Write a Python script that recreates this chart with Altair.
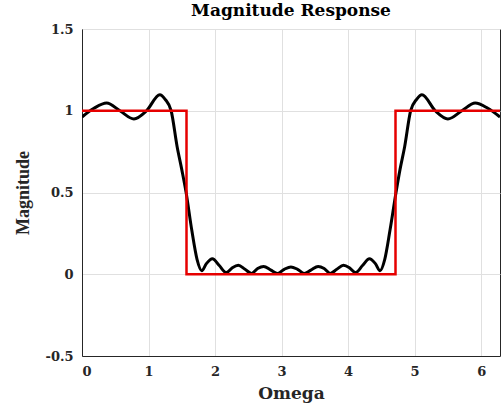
import altair as alt
import pandas as pd

resp_x = [0.00, 0.18, 0.37, 0.57, 0.78, 0.97, 1.17, 1.25, 1.34, 1.43, 1.50, 1.565,
          1.65, 1.73, 1.80, 1.87, 1.96, 2.06, 2.17, 2.26, 2.35, 2.45, 2.55, 2.64,
          2.73, 2.84, 2.94, 3.04, 3.14, 3.24, 3.34, 3.44, 3.55, 3.64, 3.73, 3.83,
          3.93, 4.02, 4.11, 4.22, 4.32, 4.41, 4.48, 4.55, 4.63, 4.72, 4.78, 4.85,
          4.94, 5.03, 5.11, 5.31, 5.50, 5.71, 5.91, 6.10, 6.283]
resp_y = [0.962, 1.015, 1.047, 1.000, 0.950, 1.000, 1.098, 1.070, 1.000, 0.780, 0.640, 0.500,
          0.270, 0.090, 0.022, 0.065, 0.095, 0.055, 0.010, 0.040, 0.055, 0.030, 0.005, 0.035,
          0.048, 0.025, 0.005, 0.030, 0.045, 0.030, 0.005, 0.025, 0.048, 0.035, 0.005, 0.030,
          0.055, 0.040, 0.010, 0.055, 0.095, 0.065, 0.022, 0.090, 0.270, 0.500, 0.640, 0.780,
          1.000, 1.070, 1.098, 1.000, 0.950, 1.000, 1.047, 1.015, 0.962]

# Ideal (red) bandstop response
ideal_x = [0.0, 1.5708, 1.5708, 4.7124, 4.7124, 6.2832]
ideal_y = [1.0, 1.0, 0.0, 0.0, 1.0, 1.0]

x_ticks = [0, 1, 2, 3, 4, 5, 6]
y_ticks = [-0.5, 0, 0.5, 1, 1.5]

resp = pd.DataFrame({"omega": resp_x, "mag": resp_y, "i": range(len(resp_x))})
ideal = pd.DataFrame({"omega": ideal_x, "mag": ideal_y, "i": range(len(ideal_x))})

WIDE = "DejaVu Serif"
TIMES = "Liberation Serif"

xenc = alt.X("omega:Q", scale=alt.Scale(domain=[0, 6.2832], nice=False, zero=False),
             axis=alt.Axis(values=x_ticks, title="Omega", labelExpr="'' + datum.value",
                           titleFont=WIDE, titleFontSize=17, titlePadding=7))
yenc = alt.Y("mag:Q", scale=alt.Scale(domain=[-0.5, 1.5], nice=False, zero=False),
             axis=alt.Axis(values=y_ticks, title="Magnitude", labelExpr="'' + datum.value",
                           titleFont=TIMES, titleFontSize=18, titlePadding=12))

black = alt.Chart(resp).mark_line(color="#000000", strokeWidth=3, interpolate="monotone",
                                  clip=True).encode(x=xenc, y=yenc, order="i:Q")
red = alt.Chart(ideal).mark_line(color="#e60000", strokeWidth=2.5,
                                 clip=True).encode(x=xenc, y=yenc, order="i:Q")

chart = (black + red).properties(
    width=418, height=327,
    background="white",
    autosize=alt.AutoSizeParams(type="none"),
    padding={"left": 82, "top": 29, "right": 4, "bottom": 52},
    title=alt.TitleParams("Magnitude Response", font=WIDE, fontSize=17, fontWeight="bold",
                          color="#000000", offset=3, anchor="middle"),
).configure_view(stroke="#262626", strokeWidth=1).configure_axis(
    labelFont=WIDE, labelFontSize=13, labelFontWeight="bold", labelColor="#262626",
    titleFontWeight="bold", titleColor="#262626",
    grid=True, gridColor="#e0e0e0", gridWidth=1,
    domainColor="#262626", ticks=False, labelPadding=9,
)

chart.save("out.html", embed_options={"renderer": "svg", "actions": False})
